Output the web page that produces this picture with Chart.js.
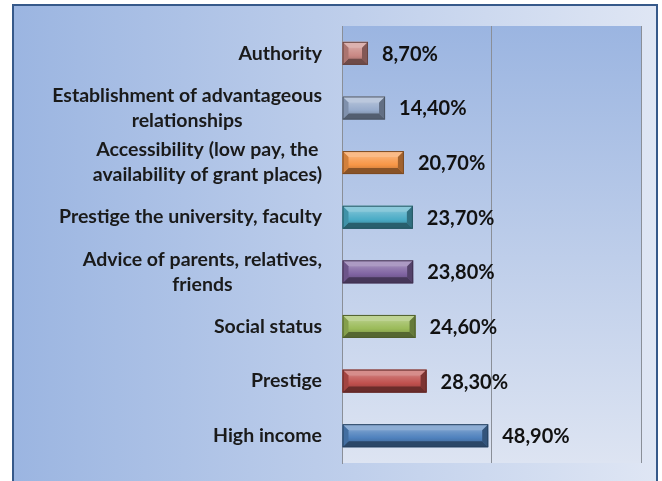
<!DOCTYPE html>
<html>
<head>
<meta charset="utf-8">
<script src="https://cdn.jsdelivr.net/npm/chart.js@4.4.0/dist/chart.umd.min.js"></script>
<style>
  html, body { margin: 0; padding: 0; background: #fff; }
  #wrap { width: 662px; height: 481px; position: relative; }
</style>
</head>
<body>
<div id="wrap"><canvas id="chart"></canvas></div>
<script>
// --- DATA ---
const categories = [
    ['Authority'],
    ['Establishment of advantageous', 'relationships'],
    ['Accessibility (low pay, the', 'availability of grant places)'],
    ['Prestige the university, faculty'],
    ['Advice of parents, relatives,', 'friends'],
    ['Social status'],
    ['Prestige'],
    ['High income']
];
const values = [8.7, 14.4, 20.7, 23.7, 23.8, 24.6, 28.3, 48.9];
const barColors = ['#c98884', '#97abcb', '#f79646', '#4bacc6', '#8064a2', '#9bbb59', '#c0504d', '#4f81bd'];
const axisMin = 0;
const axisMax = 100;
const axisStep = 50;

// --- HELPERS ---
function mix(hex, target, amt) {
    const a = parseInt(hex.slice(1), 16);
    const b = parseInt(target.slice(1), 16);
    const ch = (v, s) => (v >> s) & 255;
    const out = [16, 8, 0].map(s => Math.round(ch(a, s) + (ch(b, s) - ch(a, s)) * amt));
    return 'rgb(' + out.join(',') + ')';
}
const fmt = v => v.toFixed(2).replace('.', ',') + '%';

function poly(ctx, pts, fill) {
    ctx.beginPath();
    ctx.moveTo(pts[0][0], pts[0][1]);
    for (let k = 1; k < pts.length; k++) ctx.lineTo(pts[k][0], pts[k][1]);
    ctx.closePath();
    ctx.fillStyle = fill;
    ctx.fill();
}

// --- BACKGROUND: outer frame + plot area ---
const backgroundPlugin = {
    id: 'bg',
    beforeDraw(chart) {
        const ctx = chart.ctx;
        const area = chart.chartArea;
        ctx.save();
        ctx.fillStyle = '#ffffff';
        ctx.fillRect(0, 0, chart.width, chart.height);

        const g = ctx.createLinearGradient(13, 0, 657, 0);
        g.addColorStop(0, '#9bb5e1');
        g.addColorStop(1, '#dfe6f4');
        ctx.fillStyle = g;
        ctx.fillRect(13, 5, 644, chart.height);
        ctx.strokeStyle = '#36598a';
        ctx.lineWidth = 2;
        ctx.strokeRect(13, 5, 644, chart.height + 10);

        const pg = ctx.createLinearGradient(0, area.top, 0, area.bottom);
        pg.addColorStop(0, '#9bb5e1');
        pg.addColorStop(1, '#dde4f2');
        ctx.fillStyle = pg;
        ctx.fillRect(area.left, area.top, area.right - area.left, area.bottom - area.top);
        ctx.restore();
    }
};

// --- CATEGORY LABELS: block right-aligned, lines centred ---
const labelPlugin = {
    id: 'catLabels',
    afterDraw(chart) {
        const ctx = chart.ctx;
        const yScale = chart.scales.y;
        const right = chart.chartArea.left - 20;
        const lineH = 25;
        ctx.save();
        ctx.font = 'bold 19.5px Lato';
        ctx.fillStyle = '#1a1a1a';
        ctx.textAlign = 'center';
        ctx.textBaseline = 'middle';
        categories.forEach((lines, i) => {
            const yc = yScale.getPixelForValue(i);
            const w = Math.max(...lines.map(s => ctx.measureText(s).width));
            const cx = right - w / 2;
            const y0 = yc - (lines.length - 1) * lineH / 2;
            lines.forEach((s, k) => ctx.fillText(s, cx, y0 + k * lineH));
        });
        ctx.restore();
    }
};

// --- BEVELLED BARS + VALUE LABELS ---
const bevelPlugin = {
    id: 'bevel',
    afterDatasetsDraw(chart) {
        const ctx = chart.ctx;
        const meta = chart.getDatasetMeta(0);
        ctx.save();
        meta.data.forEach((bar, i) => {
            const p = bar.getProps(['x', 'y', 'base', 'height'], true);
            const l = Math.min(p.base, p.x), r = Math.max(p.base, p.x);
            const t = p.y - p.height / 2, b = p.y + p.height / 2;
            const d = Math.min(6, (r - l) / 2, p.height / 2);
            const c = barColors[i];

            const face = ctx.createLinearGradient(0, t, 0, b);
            face.addColorStop(0, mix(c, '#ffffff', 0.45));
            face.addColorStop(0.35, mix(c, '#ffffff', 0.15));
            face.addColorStop(0.6, c);
            face.addColorStop(1, mix(c, '#000000', 0.3));
            ctx.fillStyle = face;
            ctx.fillRect(l, t, r - l, b - t);

            poly(ctx, [[l, t], [r, t], [r - d, t + d], [l + d, t + d]], mix(c, '#ffffff', 0.35));
            poly(ctx, [[l, b], [r, b], [r - d, b - d], [l + d, b - d]], mix(c, '#000000', 0.45));
            poly(ctx, [[l, t], [l + d, t + d], [l + d, b - d], [l, b]], mix(c, '#000000', 0.15));
            poly(ctx, [[r, t], [r - d, t + d], [r - d, b - d], [r, b]], mix(c, '#000000', 0.35));

            ctx.strokeStyle = mix(c, '#000000', 0.5);
            ctx.lineWidth = 1;
            ctx.strokeRect(l + 0.5, t + 0.5, r - l - 1, b - t - 1);

            ctx.fillStyle = '#111111';
            ctx.font = 'bold 20px Lato';
            ctx.textAlign = 'left';
            ctx.textBaseline = 'middle';
            ctx.fillText(fmt(values[i]), r + 14, p.y + 1);
        });
        ctx.restore();
    }
};

// --- CHART ---
new Chart(document.getElementById('chart'), {
    type: 'bar',
    data: {
        labels: categories,
        datasets: [{
            data: values,
            backgroundColor: 'rgba(0,0,0,0)',
            borderWidth: 0,
            barThickness: 23
        }]
    },
    options: {
        indexAxis: 'y',
        responsive: true,
        maintainAspectRatio: false,
        animation: false,
        devicePixelRatio: 1,
        layout: { padding: { top: 26, bottom: 18, right: 21, left: 0 } },
        plugins: {
            legend: { display: false },
            tooltip: { enabled: false }
        },
        scales: {
            x: {
                min: axisMin,
                max: axisMax,
                afterFit: s => { s.height = 0; s.paddingLeft = 0; s.paddingRight = 0; },
                ticks: { display: false, stepSize: axisStep },
                grid: { color: '#8a8f98', drawTicks: false, lineWidth: 1 },
                border: { display: false }
            },
            y: {
                afterFit: s => { s.width = 342; s.paddingTop = 0; s.paddingBottom = 0; },
                ticks: { display: false },
                grid: { display: false, drawTicks: false },
                border: { display: true, color: '#8a8f98', width: 1 }
            }
        }
    },
    plugins: [backgroundPlugin, bevelPlugin, labelPlugin]
});
</script>
</body>
</html>
